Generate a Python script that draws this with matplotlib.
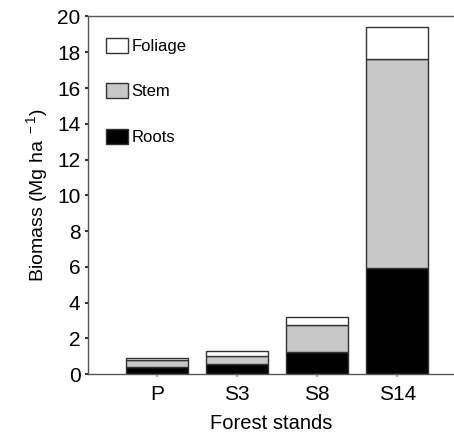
import numpy as np
import matplotlib
matplotlib.use('Agg')
from matplotlib import pyplot as plt

plt.rcParams['font.family'] = ['Liberation Sans', 'DejaVu Sans']
plt.rcParams['mathtext.fontset'] = 'custom'
plt.rcParams['mathtext.rm'] = 'Liberation Sans'
plt.rcParams['mathtext.default'] = 'regular'

stands = ['P', 'S3', 'S8', 'S14']
roots = [0.40, 0.55, 1.23, 5.91]
stem = [0.40, 0.47, 1.51, 11.73]
foliage = [0.10, 0.28, 0.48, 1.79]

fig = plt.figure(figsize=(4.54, 4.34), dpi=100)
ax = fig.add_axes([0.194, 0.138, 0.806, 0.824])

x = np.arange(len(stands))
w = 0.775
ec = '#333333'
b1 = ax.bar(x, roots, w, color='black', edgecolor=ec, linewidth=1, label='Roots')
b2 = ax.bar(x, stem, w, bottom=roots, color='#c8c8c8', edgecolor=ec, linewidth=1, label='Stem')
b3 = ax.bar(x, foliage, w, bottom=np.add(roots, stem), color='white', edgecolor=ec,
            linewidth=1, label='Foliage')

ax.set_xlim(-0.8625, 3.71)
ax.set_ylim(0, 20)
ax.set_yticks(range(0, 21, 2))
ax.set_xticks(x)
ax.set_xticklabels(stands)

for s in ['left', 'top', 'bottom']:
    ax.spines[s].set_color('#555555')
    ax.spines[s].set_linewidth(1)
ax.spines['right'].set_visible(False)

ax.tick_params(axis='y', length=2.5, width=1.5, color='#333333', labelsize=15, pad=3)
ax.tick_params(axis='x', length=2, width=1.5, color='#aaaaaa', labelsize=15, pad=6)

ax.set_ylabel('Biomass (Mg ha$^{\\ -1}$)', fontsize=14, labelpad=5)
ax.set_xlabel('Forest stands', fontsize=14.5, labelpad=7)

ax.legend([b3, b2, b1], ['Foliage', 'Stem', 'Roots'], loc='upper left',
          bbox_to_anchor=(0.05, 0.94), frameon=False, fontsize=12,
          handlelength=1.3, handleheight=1.0, labelspacing=1.75,
          handletextpad=0.2, borderpad=0, borderaxespad=0)

fig.savefig('out.png', dpi=100)
